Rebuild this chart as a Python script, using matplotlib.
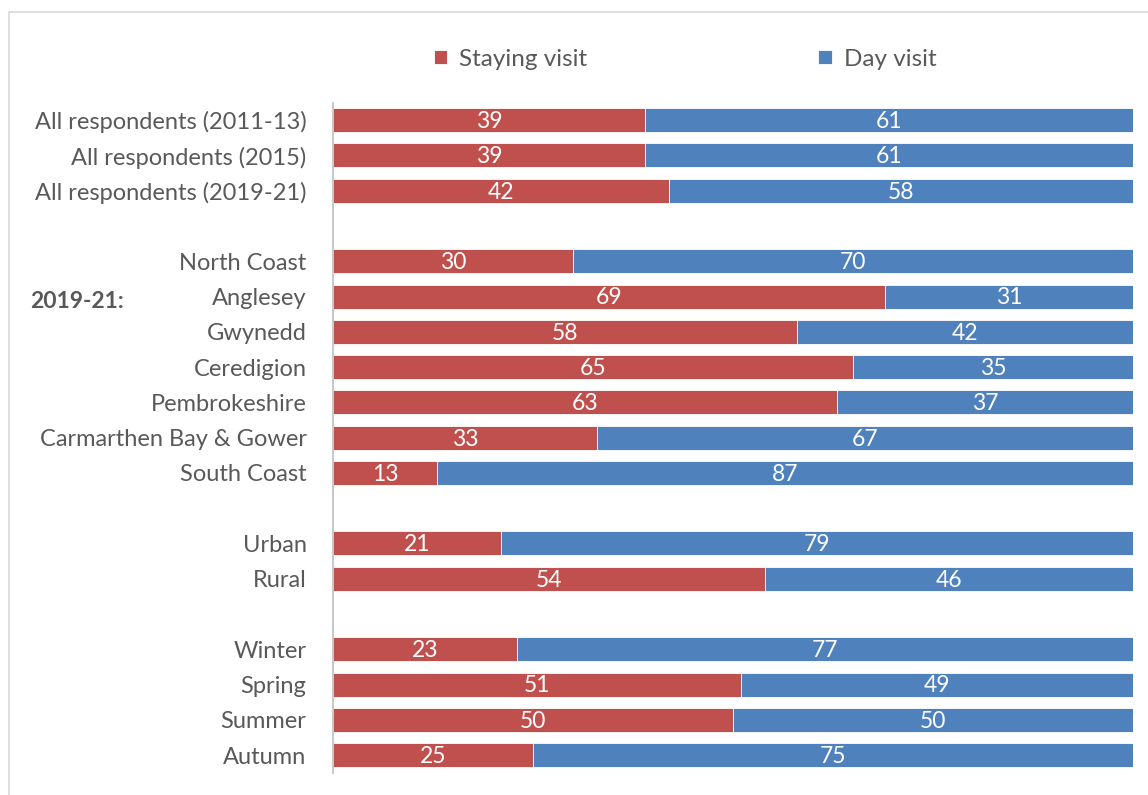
import numpy as np
import matplotlib.pyplot as plt
from matplotlib.patches import Rectangle

plt.rcParams['font.family'] = ['Lato', 'DejaVu Sans']

# data (blank strings are the spacer rows)
labels = ['All respondents (2011-13)', 'All respondents (2015)', 'All respondents (2019-21)', '',
          'North Coast', 'Anglesey', 'Gwynedd', 'Ceredigion', 'Pembrokeshire',
          'Carmarthen Bay & Gower', 'South Coast', '',
          'Urban', 'Rural', '',
          'Winter', 'Spring', 'Summer', 'Autumn']
staying = [39, 39, 42, None, 30, 69, 58, 65, 63, 33, 13, None, 21, 54, None, 23, 51, 50, 25]
day = [61, 61, 58, None, 70, 31, 42, 35, 37, 67, 87, None, 79, 46, None, 77, 49, 50, 75]

red = '#c0504d'
blue = '#4f81bd'
grey = '#595959'

fig = plt.figure(figsize=(11.48, 7.95), dpi=100)
ax = fig.add_axes([0.290, 0.028, 0.697, 0.843])

# light frame round the chart area
fig.patches.append(Rectangle((9 / 1148, -0.01), 1.02, 1 - 12 / 795 + 0.01,
                             transform=fig.transFigure, fill=False,
                             edgecolor='#d9d9d9', lw=1.2))

ypos = [i for i, v in enumerate(staying) if v is not None]
s_vals = [staying[i] for i in ypos]
d_vals = [day[i] for i in ypos]

h = 0.68
b1 = ax.barh(ypos, s_vals, height=h, color=red, edgecolor='white', lw=0.6, label='Staying visit')
b2 = ax.barh(ypos, d_vals, left=s_vals, height=h, color=blue, edgecolor='white', lw=0.6, label='Day visit')

for y, s, d in zip(ypos, s_vals, d_vals):
    ax.text(s / 2, y + 0.04, str(s), color='white', ha='center', va='center', fontsize=16.5)
    ax.text(s + d / 2, y + 0.04, str(d), color='white', ha='center', va='center', fontsize=16.5)

ax.set_xlim(0, 100)
ax.set_ylim(18.5, -0.5)
ax.set_yticks(range(len(labels)))
ax.set_yticklabels(labels, fontsize=17, color=grey)
ax.tick_params(axis='y', length=0, pad=19)
ax.set_xticks([])
for side in ['top', 'right', 'bottom']:
    ax.spines[side].set_visible(False)
ax.spines['left'].set_color('#bfbfbf')
ax.spines['left'].set_linewidth(1.2)

fig.text(30 / 1148, 1 - 302 / 795, '2019-21:', fontsize=16.5, fontweight='bold',
         color=grey, va='center', ha='left')

fig.legend(handles=[b1, b2], loc='center', bbox_to_anchor=(685 / 1148, 1 - 59 / 795),
           ncol=2, frameon=False, fontsize=17.5, labelcolor=grey,
           handlelength=0.55, handleheight=0.55, handletextpad=0.5, columnspacing=9.5)

fig.savefig('out.png', dpi=100)
